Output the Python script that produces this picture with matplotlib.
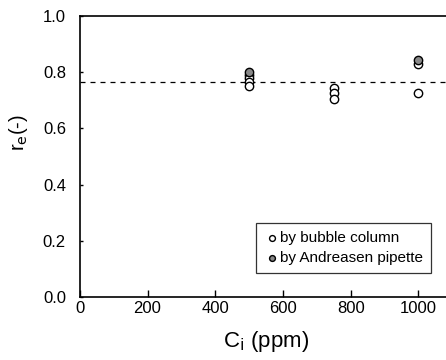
import matplotlib
matplotlib.use('Agg')
import matplotlib.pyplot as plt

plt.rcParams['font.family'] = ['Liberation Sans', 'DejaVu Sans']

# open circles: by bubble column
bubble_x = [500, 500, 500, 500, 750, 750, 750, 1000, 1000]
bubble_y = [0.79, 0.78, 0.765, 0.75, 0.745, 0.725, 0.705, 0.83, 0.725]
# filled circles: by Andreasen pipette
pipette_x = [500, 1000]
pipette_y = [0.80, 0.843]
mean_re = 0.765

xticks = [0, 200, 400, 600, 800, 1000]
yticks = [0.0, 0.2, 0.4, 0.6, 0.8, 1.0]

fig = plt.figure(figsize=(4.46, 3.6), dpi=100)
ax = fig.add_axes([0.179, 0.175, 0.835, 0.781])

ax.axhline(mean_re, color='black', lw=0.9, ls=(0, (4, 4)))
ax.scatter(bubble_x, bubble_y, s=36, facecolors='white', edgecolors='black',
           linewidths=1.0, zorder=3, label='by bubble column')
ax.scatter(pipette_x, pipette_y, s=36, facecolors='#888888', edgecolors='black',
           linewidths=1.0, zorder=4, label='by Andreasen pipette')

ax.set_xlim(0, 1100)
ax.set_ylim(0, 1.0)
ax.set_xticks(xticks)
ax.set_yticks(yticks)
ax.set_yticklabels(['%.1f' % v for v in yticks])
ax.tick_params(direction='in', width=1.0, labelsize=12, colors='black')
ax.tick_params(axis='x', length=5, pad=3)
ax.tick_params(axis='y', length=2, pad=10)
for s in ax.spines.values():
    s.set_linewidth(1.2)

ax.set_xlabel('C$_{\\mathrm{i}}$ (ppm)', fontsize=16, labelpad=9)
ax.set_ylabel('r$_{\\mathrm{e}}$(-)', fontsize=14.5)
ax.yaxis.set_label_coords(-0.135, 0.584)

leg = ax.legend(loc='lower right', bbox_to_anchor=(0.942, 0.085), borderaxespad=0,
                fontsize=11, frameon=True, fancybox=False, edgecolor='black',
                handletextpad=0.05, handlelength=1.0, borderpad=0.5,
                labelspacing=0.45, markerscale=0.7)
leg.get_frame().set_linewidth(0.9)

fig.savefig('out.png', dpi=100)
